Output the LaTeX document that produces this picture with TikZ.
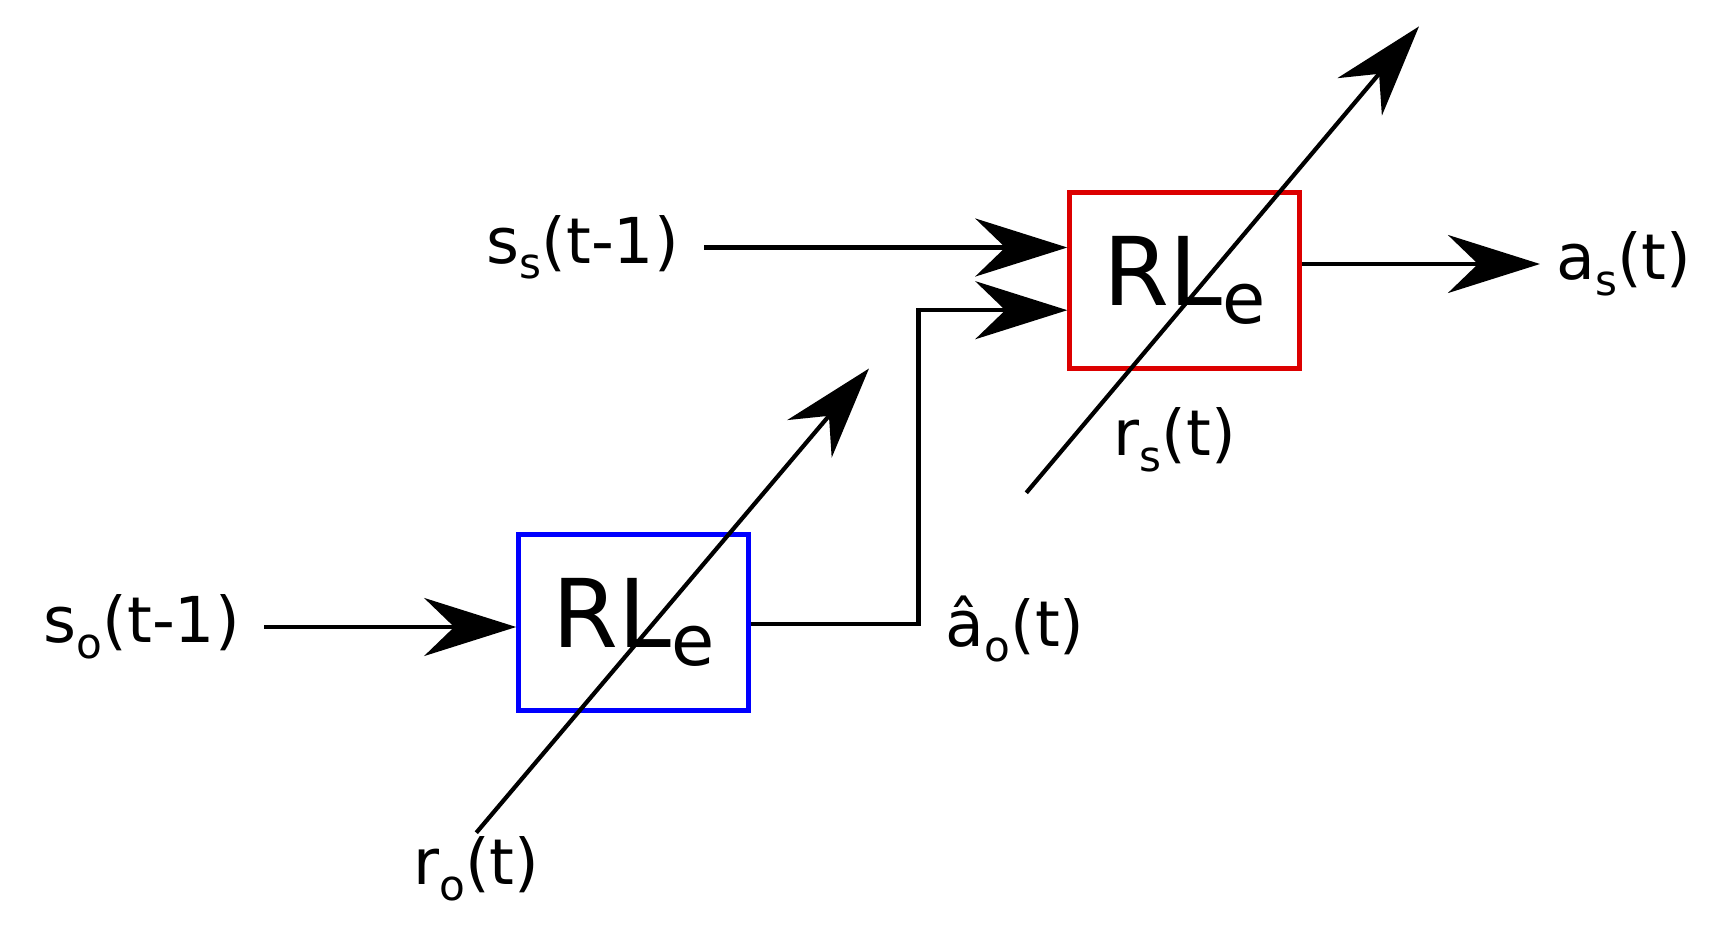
\documentclass[tikz,border=0pt]{standalone}
\usepackage{fontspec}
\setmainfont{DejaVu Sans}
\usetikzlibrary{arrows.meta}
\newcommand{\mysb}[1]{\raisebox{-0.45ex}{\fontsize{12}{12}\selectfont #1}}
\begin{document}
\begin{tikzpicture}[x=0.011cm,y=-0.011cm,
  line width=1.2pt,
  arr/.style={-{Stealth[length=0.92cm,width=0.58cm,inset=0.3cm]}},
  lbl/.style={font=\fontsize{18}{21}\selectfont, inner sep=0pt},
  box/.style={draw, line width=1.4pt, minimum width=209*0.011cm, minimum height=160*0.011cm, font=\fontsize{27}{30}\selectfont, inner sep=0pt}]
\useasboundingbox (0,0) rectangle (1560,854);
\node[box,draw={rgb,255:red,0;green,0;blue,255}] (b1) at (576,566) {RL\raisebox{-0.35ex}{\fontsize{20}{20}\selectfont e}};
\node[box,draw={rgb,255:red,220;green,0;blue,0}] (b2) at (1077,255) {RL\raisebox{-0.35ex}{\fontsize{20}{20}\selectfont e}};
\node[lbl,anchor=east] (so) at (220,570) {s\mysb{o}(t-1)};
\node[lbl,anchor=east] (ss) at (619,225) {s\mysb{s}(t-1)};
\node[lbl,anchor=west] (ao) at (858,572) {â\mysb{o}(t)};
\node[lbl,anchor=west] (as) at (1413,240) {a\mysb{s}(t)};
\node[lbl] (ro) at (433,790) {r\mysb{o}(t)};
\node[lbl] (rs) at (1068,400) {r\mysb{s}(t)};
\coordinate (so1) at (240,570);
\coordinate (ss1) at (640,225);
\coordinate (bend) at (835,282);
\coordinate (r0a) at (433,757);
\coordinate (r0b) at (790,335);
\coordinate (r1a) at (933,448);
\coordinate (r1b) at (1290,24);
\coordinate (asend) at (1400,240);
\draw[arr] (so1) -- (so1 -| b1.west);
\draw[arr] (ss1) -- (ss1 -| b2.west);
\draw[arr] (b1.east |- 0,567) -- (835,567) -- (bend) -- (bend -| b2.west);
\draw[arr] (b2.east |- asend) -- (asend);
\draw[arr] (r0a) -- (r0b);
\draw[arr] (r1a) -- (r1b);
\end{tikzpicture}
\end{document}
